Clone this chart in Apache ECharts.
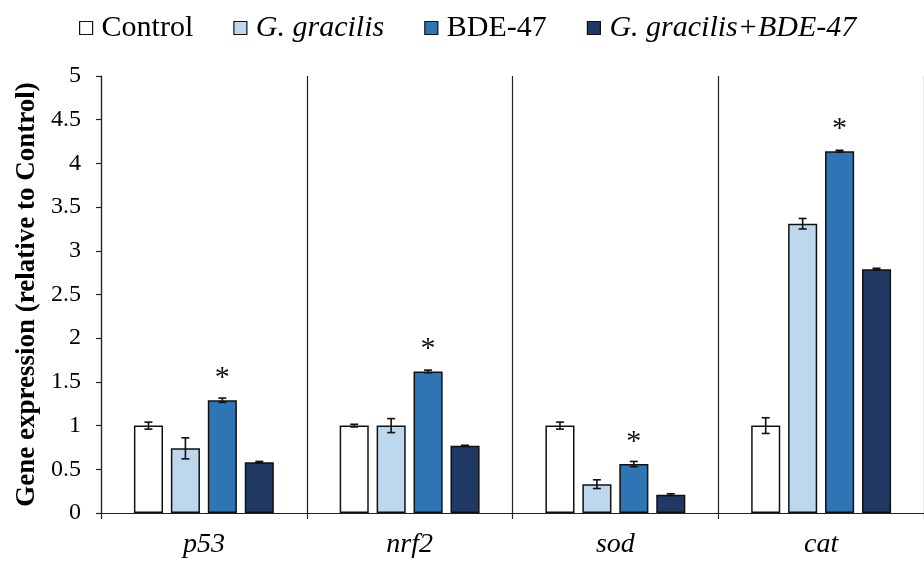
<!DOCTYPE html>
<html>
<head>
<meta charset="utf-8">
<script src="https://cdn.jsdelivr.net/npm/echarts@6/dist/echarts.min.js"></script>
<style>html,body{margin:0;padding:0;background:#fff;}#c{width:924px;height:566px;}</style>
</head>
<body>
<div id="c"></div>
<script>
const categories = ['p53', 'nrf2', 'sod', 'cat'];
const seriesNames = ['Control', 'G. gracilis', 'BDE-47', 'G. gracilis+BDE-47'];
const control = [1.0, 1.0, 1.0, 1.0];
const gGracilis = [0.74, 1.0, 0.33, 3.31];
const bde47 = [1.29, 1.62, 0.56, 4.14];
const combo = [0.58, 0.77, 0.21, 2.79];
const controlErr = [0.04, 0.015, 0.04, 0.09];
const gGracilisErr = [0.12, 0.08, 0.05, 0.06];
const bde47Err = [0.025, 0.015, 0.03, 0.01];
const comboErr = [0.01, 0.005, 0.01, 0.01];
const bdeSignificant = [true, true, true, true];
const yTicks = ['0', '0.5', '1', '1.5', '2', '2.5', '3', '3.5', '4', '4.5', '5'];

const colors = ['#ffffff', '#bdd7ee', '#2e75b6', '#203864'];
const italicNames = { 'G. gracilis': true, 'G. gracilis+BDE-47': true };
const values = [control, gGracilis, bde47, combo];
const errs = [controlErr, gGracilisErr, bde47Err, comboErr];
const FONT = '"Liberation Serif", "Times New Roman", serif';
const CAT_GAP = 0.32, BAR_GAP = 0.27;

const chart = echarts.init(document.getElementById('c'));

const barSeries = seriesNames.map((name, i) => ({
  name: name,
  type: 'bar',
  barCategoryGap: (CAT_GAP * 100) + '%',
  barGap: (BAR_GAP * 100) + '%',
  itemStyle: { color: colors[i], borderColor: '#111', borderWidth: 1.5 },
  data: values[i].map((v, k) => {
    const d = { value: v };
    if (i === 2 && bdeSignificant[k]) {
      d.label = { show: true, position: 'top', distance: 7, formatter: '*', fontSize: 30, fontFamily: FONT, color: '#111' };
    }
    return d;
  }),
  z: 2
}));

const errData = [];
errs.forEach((arr, i) => arr.forEach((e, k) => errData.push([k, values[i][k], e, i])));

const errSeries = {
  type: 'custom',
  name: 'err',
  data: errData,
  encode: { x: 0, y: 1 },
  z: 5,
  silent: true,
  renderItem: function (params, api) {
    const k = api.value(0), v = api.value(1), e = api.value(2), si = api.value(3);
    const band = api.size([1, 0])[0];
    const bw = band * (1 - CAT_GAP) / (4 + 3 * BAR_GAP);
    const off = (si - 1.5) * bw * (1 + BAR_GAP);
    const c = api.coord([k, v]);
    const x = c[0] + off;
    const yHi = api.coord([k, v + e])[1];
    const yLo = api.coord([k, v - e])[1];
    const cap = 4;
    const st = { stroke: '#111', lineWidth: 1.6, fill: null };
    return {
      type: 'group',
      children: [
        { type: 'line', shape: { x1: x, y1: yHi, x2: x, y2: yLo }, style: st },
        { type: 'line', shape: { x1: x - cap, y1: yHi, x2: x + cap, y2: yHi }, style: st },
        { type: 'line', shape: { x1: x - cap, y1: yLo, x2: x + cap, y2: yLo }, style: st }
      ]
    };
  }
};

chart.setOption({
  animation: false,
  backgroundColor: '#fff',
  textStyle: { fontFamily: FONT },
  legend: {
    top: 8,
    left: 74,
    itemWidth: 13,
    itemHeight: 13,
    itemGap: 40,
    icon: 'rect',
    textStyle: { fontSize: 30, fontFamily: FONT, color: '#000', padding: [0, 0, 0, 4] },
    data: seriesNames.map(n => ({
      name: n,
      itemStyle: { borderColor: '#111', borderWidth: 1.2 },
      textStyle: { fontStyle: italicNames[n] ? 'italic' : 'normal' }
    }))
  },
  grid: { left: 101, right: -1, top: 76, bottom: 53, containLabel: false },
  xAxis: {
    type: 'category',
    data: categories,
    axisLine: { lineStyle: { color: '#222', width: 1.2 } },
    axisTick: { show: true, length: 6, lineStyle: { color: '#222', width: 1.2 } },
    splitLine: { show: true, lineStyle: { color: '#222', width: 1.2 } },
    axisLabel: { fontSize: 28, fontStyle: 'italic', fontFamily: FONT, color: '#000', margin: 18 }
  },
  yAxis: {
    type: 'value',
    min: 0, max: 5, interval: 0.5,
    name: 'Gene expression (relative to Control)',
    nameLocation: 'middle',
    nameGap: 58,
    nameTextStyle: { fontSize: 27, fontWeight: 'bold', fontFamily: FONT, color: '#000' },
    axisLine: { show: true, lineStyle: { color: '#222', width: 1.2 } },
    axisTick: { show: true, length: 5, inside: false, lineStyle: { color: '#222', width: 1.2 } },
    splitLine: { show: false },
    axisLabel: {
      fontSize: 24, fontFamily: FONT, color: '#000', margin: 20,
      formatter: function (v) { const s = String(v); return yTicks.indexOf(s) >= 0 ? s : ''; }
    }
  },
  series: barSeries.concat([errSeries])
});
</script>
</body>
</html>
